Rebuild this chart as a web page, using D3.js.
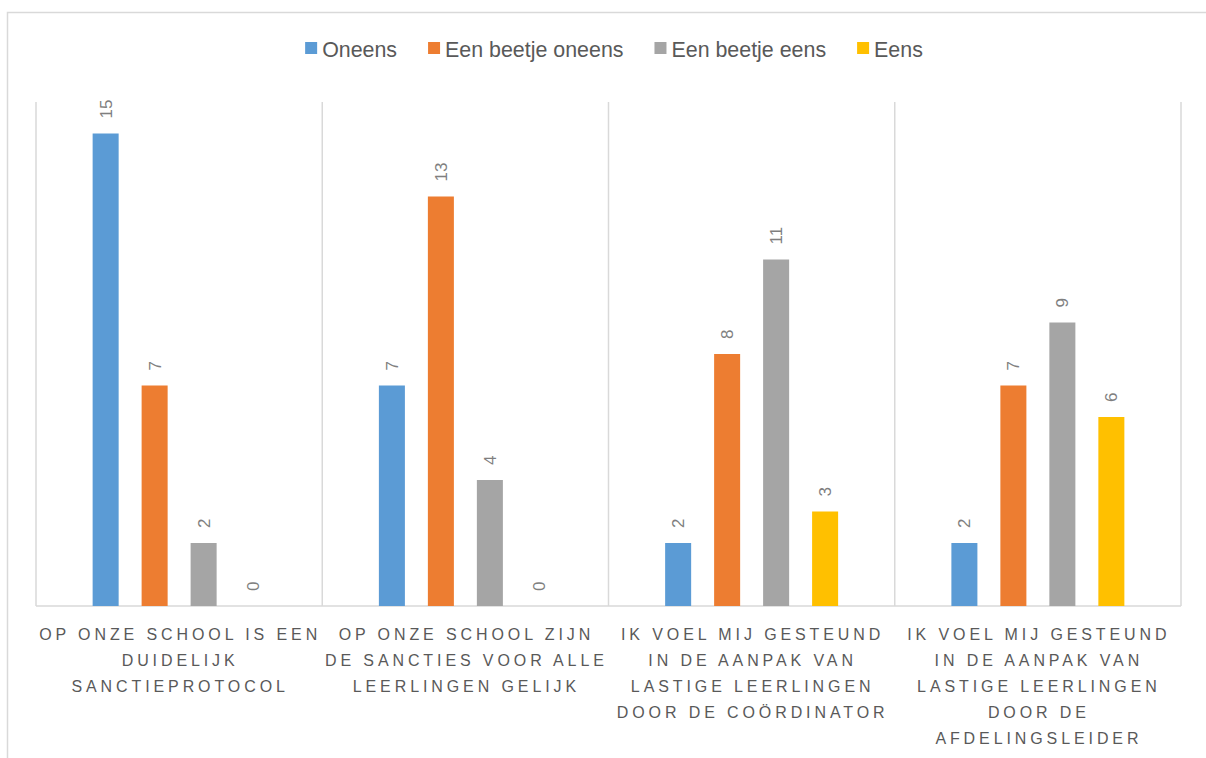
<!DOCTYPE html>
<html>
<head>
<meta charset="utf-8">
<script src="https://cdn.jsdelivr.net/npm/d3@7"></script>
<style>
  html, body { margin: 0; padding: 0; background: #fff; }
  svg { display: block; }
  text { font-family: "Liberation Sans", Arial, sans-serif; }
</style>
</head>
<body>
<svg id="chart" width="1206" height="758"></svg>
<script>
// ---- Data ----
const categories = [
  "OP ONZE SCHOOL IS EEN\nDUIDELIJK\nSANCTIEPROTOCOL",
  "OP ONZE SCHOOL ZIJN\nDE SANCTIES VOOR ALLE\nLEERLINGEN GELIJK",
  "IK VOEL MIJ GESTEUND\nIN DE AANPAK VAN\nLASTIGE LEERLINGEN\nDOOR DE COÖRDINATOR",
  "IK VOEL MIJ GESTEUND\nIN DE AANPAK VAN\nLASTIGE LEERLINGEN\nDOOR DE\nAFDELINGSLEIDER"
];
const seriesNames = ["Oneens", "Een beetje oneens", "Een beetje eens", "Eens"];
const oneens          = [15, 7, 2, 2];
const eenBeetjeOneens = [7, 13, 8, 7];
const eenBeetjeEens   = [2, 4, 11, 9];
const eens            = [0, 0, 3, 6];
const seriesColors = ["#5b9bd5", "#ed7d31", "#a5a5a5", "#ffc000"];

const seriesValues = [oneens, eenBeetjeOneens, eenBeetjeEens, eens];

// ---- Layout ----
const svg = d3.select("#chart");
const plot = { left: 36, right: 1181, top: 102, bottom: 606 };

// outer chart border (partially cut off at right/bottom)
svg.append("rect")
  .attr("x", 7.5).attr("y", 12.5)
  .attr("width", 1220).attr("height", 780)
  .attr("fill", "none").attr("stroke", "#d9d9d9").attr("stroke-width", 1.5);

const x0 = d3.scaleBand().domain(d3.range(categories.length))
  .range([plot.left, plot.right]).paddingInner(0).paddingOuter(0);
const x1 = d3.scaleBand().domain(d3.range(seriesNames.length))
  .range([0, x0.bandwidth()]).paddingInner(0.469).paddingOuter(1.156);
const y = d3.scaleLinear().domain([0, 16]).range([plot.bottom, plot.top]);

// category separators (vertical gridlines)
const sepG = svg.append("g");
const seps = d3.range(categories.length + 1).map(i =>
  i < categories.length ? x0(i) : x0(categories.length - 1) + x0.bandwidth());
sepG.selectAll("line").data(seps).join("line")
  .attr("x1", d => d).attr("x2", d => d)
  .attr("y1", plot.top).attr("y2", plot.bottom)
  .attr("stroke", "#d9d9d9").attr("stroke-width", 1.5);

// baseline axis
svg.append("line")
  .attr("x1", plot.left).attr("x2", plot.right)
  .attr("y1", plot.bottom).attr("y2", plot.bottom)
  .attr("stroke", "#d9d9d9").attr("stroke-width", 1.5);

// bars
const barData = [];
categories.forEach((c, ci) => {
  seriesNames.forEach((s, si) => {
    barData.push({ ci, si, v: seriesValues[si][ci] });
  });
});

svg.append("g").selectAll("rect").data(barData).join("rect")
  .attr("x", d => x0(d.ci) + x1(d.si))
  .attr("y", d => y(d.v))
  .attr("width", x1.bandwidth())
  .attr("height", d => y(0) - y(d.v))
  .attr("fill", d => seriesColors[d.si]);

// value labels (rotated)
svg.append("g").selectAll("text").data(barData).join("text")
  .attr("transform", d => {
    const cx = x0(d.ci) + x1(d.si) + x1.bandwidth() / 2 + 6;
    const ty = y(d.v) - 15;
    return `translate(${cx},${ty}) rotate(-90)`;
  })
  .attr("text-anchor", "start")
  .attr("font-size", 17)
  .attr("fill", "#7f7f7f")
  .text(d => d.v);

// category labels
const catG = svg.append("g");
categories.forEach((c, ci) => {
  const lines = c.split("\n");
  const t = catG.append("text")
    .attr("text-anchor", "middle")
    .attr("font-size", 16)
    .attr("letter-spacing", "3.9px")
    .attr("fill", "#595959");
  lines.forEach((ln, li) => {
    t.append("tspan")
      .attr("x", x0(ci) + x0.bandwidth() / 2 + 1)
      .attr("y", 640 + li * 26)
      .text(ln);
  });
});

// legend
const legG = svg.append("g");
const items = seriesNames.map((name, i) => {
  const g = legG.append("g");
  g.append("rect").attr("width", 12).attr("height", 12).attr("y", -7)
    .attr("fill", seriesColors[i]);
  const tx = g.append("text").attr("x", 17).attr("y", 7.5)
    .attr("font-size", 21.4).attr("fill", "#595959").text(name);
  const w = 17 + tx.node().getComputedTextLength();
  return { g, w };
});
const gap = 31;
const totalW = d3.sum(items, d => d.w) + gap * (items.length - 1);
let cx = 614 - totalW / 2;
items.forEach(it => {
  it.g.attr("transform", `translate(${cx},49)`);
  cx += it.w + gap;
});
</script>
</body>
</html>
